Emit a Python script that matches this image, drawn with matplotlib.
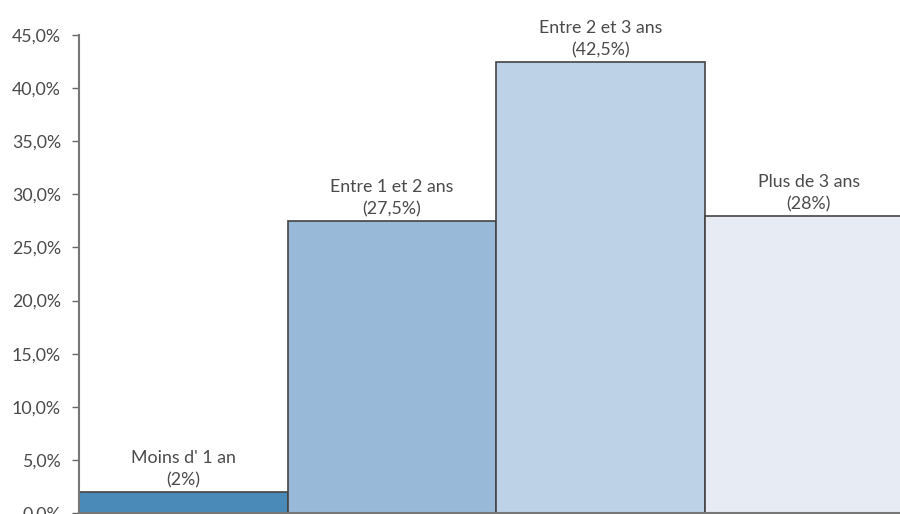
import matplotlib
matplotlib.use("Agg")
import matplotlib.pyplot as plt
from matplotlib.ticker import FuncFormatter

categories = ["Moins d' 1 an", "Entre 1 et 2 ans", "Entre 2 et 3 ans", "Plus de 3 ans"]
values = [2.0, 27.5, 42.5, 28.0]
value_labels = ["2%", "27,5%", "42,5%", "28%"]
colors = ["#4a8ab8", "#98bad8", "#bdd2e6", "#e7ebf4"]
yticks = [0, 5, 10, 15, 20, 25, 30, 35, 40, 45]

plt.rcParams['font.family'] = ['Lato', 'DejaVu Sans']

W, H = 900, 514
fig = plt.figure(figsize=(W / 100, H / 100), dpi=100)
left, right, bottom, top = 79, 913, 513, 35
ax = fig.add_axes([left / W, (H - bottom) / H, (right - left) / W, (bottom - top) / H])

x = range(len(categories))
ax.bar(x, values, width=1.0, color=colors, edgecolor="#444444", linewidth=1.2, align="center")
ax.set_xlim(-0.5, len(categories) - 0.5)
ax.set_ylim(0, 45)

for i, (cat, v, lab) in enumerate(zip(categories, values, value_labels)):
    ax.annotate(f"{cat}\n({lab})", xy=(i, v), xytext=(0, 2.5), textcoords="offset points",
                ha="center", va="bottom", fontsize=12.8, color="#4a4a4a", linespacing=1.45)

ax.set_yticks(yticks)
ax.yaxis.set_major_formatter(FuncFormatter(lambda v, p: f"{v:.1f}%".replace(".", ",")))
ax.tick_params(axis="y", length=5, width=1, color="#666666", labelsize=12.8, labelcolor="#4a4a4a", pad=8)
ax.tick_params(axis="x", length=0, labelbottom=False)
for s in ["top", "right"]:
    ax.spines[s].set_visible(False)
for s in ["left", "bottom"]:
    ax.spines[s].set_color("#777777")
    ax.spines[s].set_linewidth(1.5)

fig.savefig("out.png", dpi=100)
